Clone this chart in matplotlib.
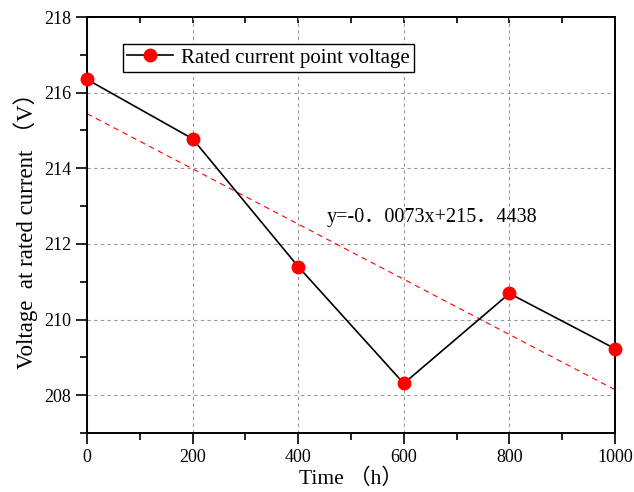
import numpy as np
import matplotlib.pyplot as plt
from matplotlib.ticker import MultipleLocator

plt.rcParams['font.family'] = ['Liberation Serif', 'Noto Sans CJK SC', 'DejaVu Sans']
plt.rcParams['axes.unicode_minus'] = False

# 数据
time_h = [0, 200, 400, 600, 800, 1000]
voltage = [216.35, 214.78, 211.40, 208.31, 210.69, 209.23]
slope = -0.0073
intercept = 215.4438

fig = plt.figure(figsize=(6.34, 4.92), dpi=100)
ax = fig.add_axes([87 / 634, 1 - 433 / 492, 528 / 634, 416 / 492])

# 拟合直线
xf = np.array([0, 1000])
ax.plot(xf, slope * xf + intercept, color='red', lw=0.8, ls=(0, (5, 4)), zorder=2)
# 实测点
ax.plot(time_h, voltage, color='black', lw=1.2, marker='o', markersize=9,
        markerfacecolor='red', markeredgecolor='red',
        label='Rated current point voltage', zorder=3, clip_on=False)

ax.text(454, 212.7, 'y=-0．0073x+215．4438', fontsize=14.5, va='center', ha='left')

ax.set_xlim(0, 1000)
ax.set_ylim(207, 218)
ax.xaxis.set_major_locator(MultipleLocator(200))
ax.xaxis.set_minor_locator(MultipleLocator(100))
ax.yaxis.set_major_locator(MultipleLocator(2))
ax.yaxis.set_minor_locator(MultipleLocator(1))
ax.grid(True, which='major', color='#999999', ls=(0, (3, 3)), lw=0.8)

for s in ax.spines.values():
    s.set_linewidth(1.4)
ax.tick_params(which='both', direction='out', width=1.2, labelsize=13, top=False, right=False)
ax.tick_params(which='major', length=8)
ax.tick_params(which='minor', length=5)
# 顶部的向内刻度
sec = ax.secondary_xaxis('top')
sec.xaxis.set_major_locator(MultipleLocator(200))
sec.xaxis.set_minor_locator(MultipleLocator(100))
sec.tick_params(which='both', direction='in', length=4, width=1.2, labeltop=False)
sec.spines['top'].set_linewidth(1.4)

ax.set_xlabel('Time （h）', fontsize=15.5, labelpad=2)
ax.set_ylabel('Voltage  at rated current （V）', fontsize=16.5, labelpad=4)

leg = ax.legend(loc='upper left', bbox_to_anchor=(0.068, 0.935), fontsize=15,
                frameon=True, fancybox=False, edgecolor='black', framealpha=1,
                borderpad=0.2, handlelength=2.2, handletextpad=0.4, borderaxespad=0)
leg.get_frame().set_linewidth(1.0)

fig.savefig('out.png', dpi=100)
